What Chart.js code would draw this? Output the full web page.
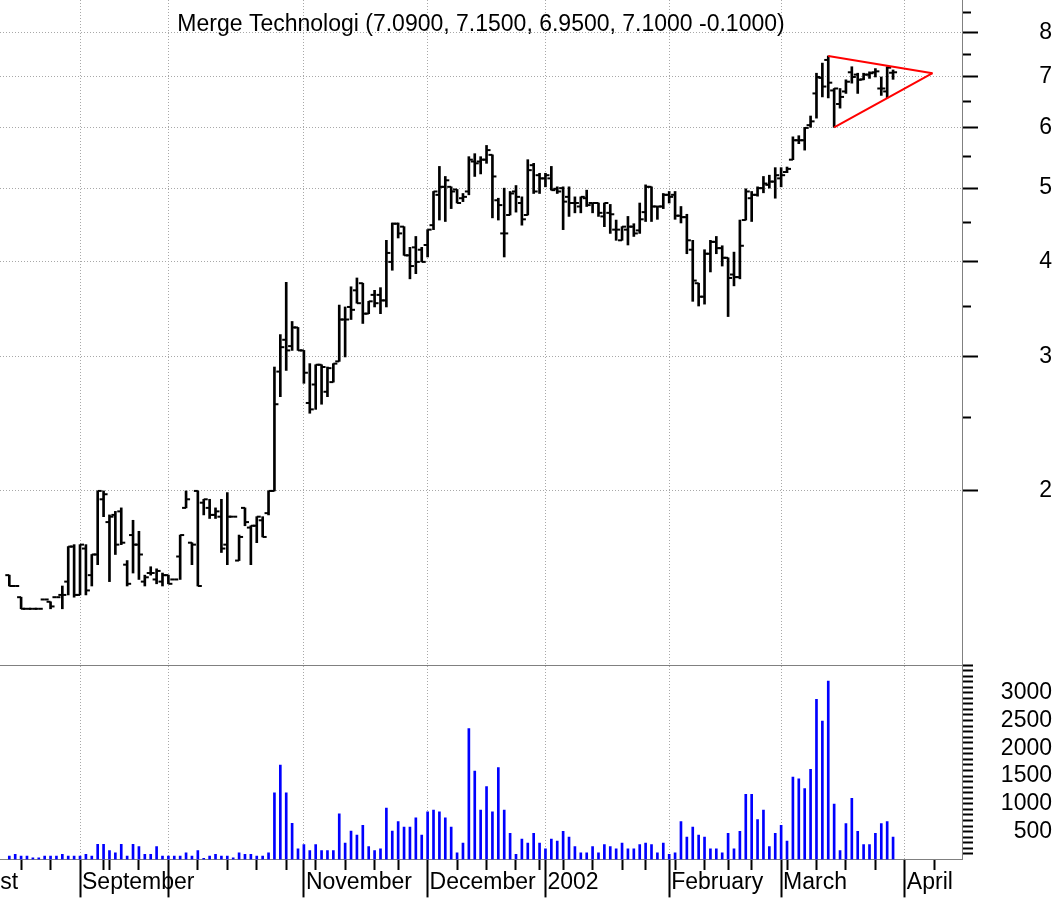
<!DOCTYPE html>
<html>
<head>
<meta charset="utf-8">
<script src="https://cdn.jsdelivr.net/npm/chart.js@4/dist/chart.umd.min.js"></script>
<style>
html,body{margin:0;padding:0;background:#fff;overflow:hidden}
#wrap{width:1061px;height:903px;position:relative}
</style>
</head>
<body>
<div id="wrap"><canvas id="c"></canvas></div>
<script>
const chartTitle = 'Merge Technologi (7.0900, 7.1500, 6.9500, 7.1000 -0.1000)';

// Daily bars, 16 Aug 2001 .. 28 Mar 2002 (one entry per trading day)
const opens = [1.55,1.50,1.45,1.40,1.40,1.40,1.44,1.43,1.45,1.46,1.52,1.69,1.46,1.68,1.55,1.65,1.95,1.82,1.86,1.88,1.60,1.75,1.70,1.52,1.56,1.53,1.52,
1.55,1.53,1.64,1.90,1.71,2.00,1.93,1.90,1.86,1.85,1.70,1.85,1.62,1.90,1.79,1.80,1.83,1.87,2.00,2.87,3.16,3.10,3.28,
3.06,2.61,2.76,2.93,2.70,2.78,2.96,3.36,3.49,3.67,3.75,3.42,3.62,3.62,3.56,4.00,4.49,4.45,4.08,4.18,4.15,
4.21,4.47,4.90,5.02,5.02,4.98,4.85,4.95,5.42,5.42,5.45,5.53,4.82,4.36,4.61,4.95,4.78,4.61,5.36,5.20,
5.15,5.15,4.99,5.00,4.87,4.78,4.73,4.85,4.78,4.78,4.59,4.64,4.41,4.27,4.41,4.45,4.40,4.65,5.02,4.73,4.73,
4.90,4.90,4.60,4.58,4.15,3.75,3.60,4.10,4.25,4.17,4.05,3.85,3.82,4.54,4.85,4.90,5.00,5.05,5.10,
5.15,5.25,5.45,5.78,5.78,6.05,6.66,6.98,7.37,6.72,6.45,6.70,7.10,7.05,6.95,7.05,7.10,6.76,6.70,7.09];
const highs = [1.55,1.50,1.45,1.40,1.40,1.40,1.44,1.43,1.45,1.50,1.69,1.70,1.70,1.70,1.65,2.00,2.00,1.86,1.88,1.90,1.62,1.83,1.77,1.55,1.59,1.58,1.56,
1.55,1.53,1.75,2.00,1.71,2.00,1.95,1.95,1.90,1.95,1.99,1.85,1.75,1.90,1.80,1.85,1.85,2.00,2.91,3.21,3.76,3.34,3.28,
3.06,2.94,2.93,2.93,2.91,2.94,3.51,3.49,3.71,3.81,3.75,3.55,3.67,3.70,4.27,4.50,4.50,4.45,4.18,4.32,4.18,
4.41,4.95,5.34,5.18,5.02,4.98,4.92,5.50,5.55,5.50,5.69,5.53,4.85,5.00,4.95,5.04,4.87,5.45,5.39,5.23,
5.23,5.34,5.02,5.02,5.02,4.87,4.87,4.97,4.78,4.78,4.78,4.76,4.54,4.45,4.59,4.49,4.78,5.05,5.02,4.73,4.92,
4.95,4.95,4.73,4.62,4.27,3.75,4.15,4.27,4.32,4.20,4.05,4.12,4.54,4.99,4.95,5.02,5.18,5.20,5.32,
5.32,5.33,5.84,5.86,6.01,6.22,7.08,7.30,7.46,6.76,6.76,6.94,7.22,7.08,7.08,7.11,7.18,7.00,7.22,7.15];
const lows = [1.50,1.50,1.40,1.40,1.40,1.40,1.44,1.40,1.45,1.40,1.46,1.45,1.46,1.46,1.50,1.60,1.85,1.52,1.65,1.70,1.50,1.56,1.53,1.50,1.55,1.51,1.50,
1.51,1.53,1.53,1.90,1.60,1.50,1.86,1.84,1.84,1.66,1.60,1.85,1.62,1.80,1.60,1.71,1.74,1.86,2.00,2.66,2.88,3.06,3.06,
2.77,2.53,2.56,2.60,2.66,2.78,2.96,3.00,3.36,3.53,3.32,3.42,3.49,3.42,3.49,3.90,4.30,4.08,3.80,3.86,4.00,
4.06,4.41,4.54,4.52,4.70,4.78,4.80,4.90,5.18,5.22,5.39,4.57,4.54,4.06,4.61,4.65,4.47,4.61,4.92,4.92,
5.02,4.97,4.92,4.41,4.59,4.64,4.64,4.73,4.64,4.59,4.45,4.36,4.27,4.27,4.21,4.32,4.36,4.52,4.52,4.55,4.70,
4.78,4.55,4.50,4.10,3.55,3.50,3.52,3.88,4.10,3.95,3.39,3.72,3.80,4.54,4.52,4.88,4.93,5.00,4.85,
5.02,5.24,5.45,5.72,5.61,6.01,6.18,6.59,6.57,6.01,6.37,6.66,6.87,6.66,6.94,6.97,7.00,6.62,6.57,6.95];
const closes = [1.50,1.50,1.40,1.40,1.40,1.40,1.44,1.41,1.45,1.46,1.69,1.46,1.70,1.48,1.65,2.00,1.98,1.85,1.70,1.71,1.51,1.70,1.65,1.54,1.56,1.57,1.55,
1.51,1.53,1.75,1.95,1.70,1.50,1.95,1.86,1.88,1.68,1.85,1.85,1.74,1.82,1.80,1.85,1.74,2.00,2.60,3.09,3.06,3.28,3.06,
2.86,2.56,2.93,2.91,2.90,2.94,3.36,3.36,3.46,3.53,3.42,3.55,3.53,3.56,4.11,4.49,4.36,4.08,3.95,4.00,4.00,
4.41,4.95,5.02,5.12,4.95,4.78,4.87,5.45,5.39,5.45,5.61,5.18,4.75,4.36,4.92,4.87,4.55,5.28,4.95,5.15,
5.20,4.97,4.95,4.80,4.78,4.78,4.87,4.75,4.78,4.64,4.78,4.62,4.41,4.45,4.45,4.36,4.55,5.02,4.73,4.73,4.90,
4.87,4.60,4.58,4.27,3.78,3.60,4.10,4.25,4.17,4.05,3.81,3.82,4.20,4.95,4.90,5.00,5.07,5.10,5.20,
5.20,5.30,5.78,5.78,6.00,6.12,7.00,6.80,6.88,6.76,6.59,6.90,7.00,6.94,7.05,7.08,7.12,6.76,7.20,7.10];
// Volume (thousands)
const volumes = [60,90,60,60,30,30,60,60,60,90,60,60,60,90,60,270,270,160,120,270,60,270,230,90,90,230,60,
60,60,60,120,60,160,20,60,90,60,60,30,120,90,90,60,60,120,1200,1700,1200,650,190,
265,160,265,160,160,160,820,295,510,440,615,230,160,190,925,510,680,580,580,750,440,
855,890,855,750,580,120,295,2355,1590,890,1310,855,1655,890,470,90,365,295,470,295,
190,365,330,505,400,230,120,120,230,120,265,230,190,295,190,190,265,295,265,120,295,
90,120,680,400,580,440,400,190,190,120,470,190,505,1170,1170,715,890,230,470,
615,330,1480,1450,1275,1620,2880,2490,3210,995,160,645,1100,505,265,265,470,645,680,400];

// Triangle pattern drawn on the price pane (trading-day index, price)
const triangleUpper = [{x:139, y:7.46}, {x:156.7, y:7.08}];
const triangleLower = [{x:140, y:6.01}, {x:156.7, y:7.08}];

// Axis ticks
const monthLabels = ['August','September','','November','December','2002','February','March','April'];
const monthStarts = [-11, 12, 27, 50, 71, 91, 112, 131, 152];
const weekStarts = [2,7,16,17,22,32,37,42,47,52,57,62,66,76,81,86,90,94,99,104,108,113,118,122,126,132,137,142,147,157];
const priceMajorTicks = [2,3,4,5,6,7,8];
const priceMinorTicks = [2.5,3.5,4.5,5.5,6.5,7.5,8.5];
const volumeMajorTicks = [500,1000,1500,2000,2500,3000];
const volumeMinorStep = 100;
const volumeMax = 3500;

const FAMILY = "'Liberation Sans', Arial, Helvetica, sans-serif";
const GRID = '#a8a8a8';
const AXIS = '#808080';
const NONE = 'rgba(0,0,0,0)';
const tickVal = c => (c && c.tick) ? c.tick.value : null;

const idx = closes.map((_, i) => i);
const priceTicks = priceMajorTicks.concat(priceMinorTicks).sort((a, b) => a - b);
const volumeTicks = [];
for (let v = volumeMinorStep; v <= volumeMax; v += volumeMinorStep) volumeTicks.push(v);
const xTicks = monthStarts.concat(weekStarts).sort((a, b) => a - b);

new Chart(document.getElementById('c'), {
  type: 'bar',
  data: {
    datasets: [
      { type: 'line', label: 'upper', yAxisID: 'y', data: triangleUpper, borderColor: '#ff0000', borderWidth: 2, pointRadius: 0, pointHoverRadius: 0, tension: 0, order: 0 },
      { type: 'line', label: 'lower', yAxisID: 'y', data: triangleLower, borderColor: '#ff0000', borderWidth: 2, pointRadius: 0, pointHoverRadius: 0, tension: 0, order: 0 },
      { type: 'line', label: 'open', yAxisID: 'y', data: idx.map(i => ({x: i, y: opens[i]})), showLine: false,
        pointStyle: 'dash', pointRadius: 4, pointHoverRadius: 4, pointBorderWidth: 2, pointBorderColor: '#000', pointBackgroundColor: '#000', pointRotation: 180, order: 1 },
      { type: 'line', label: 'close', yAxisID: 'y', data: idx.map(i => ({x: i, y: closes[i]})), showLine: false,
        pointStyle: 'dash', pointRadius: 4, pointHoverRadius: 4, pointBorderWidth: 2, pointBorderColor: '#000', pointBackgroundColor: '#000', pointRotation: 0, order: 1 },
      { type: 'bar', label: 'range', yAxisID: 'y', data: idx.map(i => ({x: i, y: [lows[i], highs[i]]})),
        backgroundColor: '#000', barThickness: 2, grouped: false, order: 2 },
      { type: 'bar', label: 'volume', yAxisID: 'vol', data: idx.map(i => ({x: i, y: volumes[i]})),
        backgroundColor: '#0000ff', barThickness: 2, grouped: false, order: 3 }
    ]
  },
  options: {
    responsive: true,
    maintainAspectRatio: false,
    devicePixelRatio: 1,
    animation: false,
    events: [],
    layout: { autoPadding: false, padding: { left: 0, right: 9, top: 0, bottom: 6.2 } },
    plugins: {
      legend: { display: false },
      tooltip: { enabled: false },
      title: {
        display: true, text: chartTitle, fullSize: false, color: '#000',
        font: { family: FAMILY, size: 23, weight: 'normal', lineHeight: 1.2 },
        padding: { top: 10.5, bottom: -38.1 }
      }
    },
    scales: {
      x: {
        type: 'linear', min: -1.58, max: 161.7, offset: false,
        afterBuildTicks: s => { s.ticks = xTicks.map(v => ({ value: v })); },
        afterFit: s => { s.height = 37.4; s.paddingLeft = 0; s.paddingRight = 0; },
        ticks: {
          autoSkip: false, maxRotation: 0, minRotation: 0, align: 'start', labelOffset: 2, padding: -28.2,
          color: '#000', font: { family: FAMILY, size: 23 },
          callback: v => { const k = monthStarts.indexOf(v); return k >= 0 ? monthLabels[k] : ''; }
        },
        grid: {
          offset: false, lineWidth: 1, tickLength: 38, tickWidth: 2, tickColor: '#000',
          color: c => monthStarts.includes(tickVal(c)) ? GRID : NONE,
          tickBorderDash: c => monthStarts.includes(tickVal(c)) ? [] : [10, 100]
        },
        border: { color: AXIS, width: 1, dash: [1, 2] }
      },
      y: {
        type: 'logarithmic', position: 'right', stack: 'panes', stackWeight: 665,
        min: 1.181, max: 8.836,
        afterBuildTicks: s => { s.ticks = priceTicks.map(v => ({ value: v, major: priceMajorTicks.includes(v) })); },
        afterFit: s => { s.width = 90; s.paddingTop = 0; s.paddingBottom = 0; },
        ticks: {
          autoSkip: false, crossAlign: 'far', padding: -14, color: '#000', font: { family: FAMILY, size: 23 },
          callback: v => priceMajorTicks.includes(v) ? String(v) : ''
        },
        grid: {
          lineWidth: 1, tickLength: 16, tickWidth: 2, tickColor: '#000',
          color: c => priceMajorTicks.includes(tickVal(c)) ? GRID : NONE,
          tickBorderDash: c => priceMajorTicks.includes(tickVal(c)) ? [] : [8, 100]
        },
        border: { color: AXIS, width: 1, dash: [1, 2] }
      },
      vol: {
        type: 'linear', position: 'right', stack: 'panes', stackWeight: 194.4,
        min: 0, max: volumeMax,
        afterBuildTicks: s => { s.ticks = volumeTicks.map(v => ({ value: v })); },
        afterFit: s => { s.width = 90; s.paddingTop = 0; s.paddingBottom = 0; },
        ticks: {
          autoSkip: false, crossAlign: 'far', padding: -14, color: '#000', font: { family: FAMILY, size: 23 },
          callback: v => volumeMajorTicks.includes(v) ? String(v) : ''
        },
        grid: {
          lineWidth: 1, tickLength: 16, tickWidth: 2, tickColor: '#000',
          color: c => tickVal(c) === volumeMax ? AXIS : NONE,
          tickBorderDash: c => [10, 100]
        },
        border: { color: AXIS, width: 1 }
      }
    }
  }
});
</script>
</body>
</html>
